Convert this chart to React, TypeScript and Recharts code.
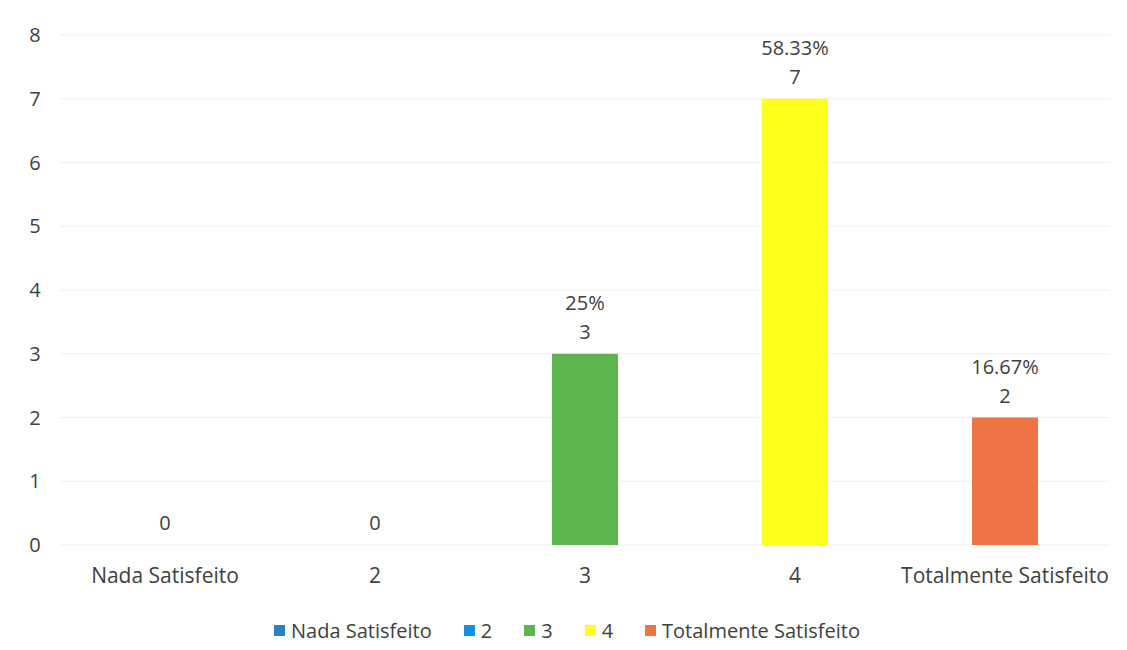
import { ComposedChart, Bar, Line, XAxis, YAxis, CartesianGrid, Legend, Cell, LabelList } from "recharts"

const categories = ["Nada Satisfeito", "2", "3", "4", "Totalmente Satisfeito"]
const counts = [0, 0, 3, 7, 2]
const percents = ["", "", "25%", "58.33%", "16.67%"]
const colors = ["#2e7fc0", "#1a8fe0", "#5db54e", "#ffff1c", "#ee7446"]
const yTicks = [0, 1, 2, 3, 4, 5, 6, 7, 8]

const chartData = categories.map((name, i) => ({
  name,
  value: counts[i],
  pct: percents[i],
}))

const FONT = "'Open Sans', sans-serif"
const TEXT = "#404040"
const FS = 20

// two-line label: percentage on top, count below (zero bars only show the count)
// hung on an invisible line so zero-height bars still get their label
const PointLabel = (props: any) => {
  const { x, y, index } = props
  const d = chartData[index]
  return (
    <g>
      {d.pct && (
        <text x={x} y={y - 44} textAnchor="middle" fill={TEXT} fontSize={FS} fontFamily={FONT}>
          {d.pct}
        </text>
      )}
      <text x={x} y={y - 15} textAnchor="middle" fill={TEXT} fontSize={FS} fontFamily={FONT}>
        {d.value}
      </text>
    </g>
  )
}

const YTick = ({ y, payload }: any) => (
  <text x={35} y={y} dy={7} textAnchor="middle" fill={TEXT} fontSize={FS} fontFamily={FONT}>
    {payload.value}
  </text>
)

const LegendContent = () => (
  <div
    style={{
      display: "flex",
      justifyContent: "center",
      alignItems: "center",
      height: 30,
      fontFamily: FONT,
      fontSize: FS,
      color: TEXT,
      paddingLeft: 24,
    }}
  >
    {categories.map((c, i) => (
      <div key={c} style={{ display: "flex", alignItems: "center", marginLeft: i === 0 ? 0 : 32 }}>
        <span style={{ width: 11, height: 11, background: colors[i], marginRight: 6, display: "inline-block" }} />
        <span>{c}</span>
      </div>
    ))}
  </div>
)

export default function App() {
  return (
    <div style={{ position: "absolute", left: 0, top: 0, background: "#fff" }}>
      <ComposedChart
        width={1127}
        height={650}
        data={chartData}
        margin={{ top: 35, right: 17, left: 0, bottom: 5 }}
      >
        <CartesianGrid horizontal={true} vertical={false} stroke="#efefef" />
        <XAxis
          dataKey="name"
          axisLine={false}
          tickLine={false}
          height={70}
          tickMargin={17}
          tick={{ fill: TEXT, fontSize: 21, fontFamily: FONT }}
          interval={0}
        />
        <YAxis
          width={60}
          domain={[0, 8]}
          ticks={yTicks}
          axisLine={false}
          tickLine={false}
          tick={<YTick />}
        />
        <Legend verticalAlign="bottom" content={<LegendContent />} />
        <Bar dataKey="value" barSize={66} isAnimationActive={false} legendType="none">
          {chartData.map((d, i) => (
            <Cell key={d.name} fill={colors[i]} />
          ))}
        </Bar>
        <Line
          dataKey="value"
          stroke="none"
          dot={false}
          activeDot={false}
          legendType="none"
          isAnimationActive={false}
        >
          <LabelList dataKey="value" content={<PointLabel />} />
        </Line>
      </ComposedChart>
    </div>
  )
}
